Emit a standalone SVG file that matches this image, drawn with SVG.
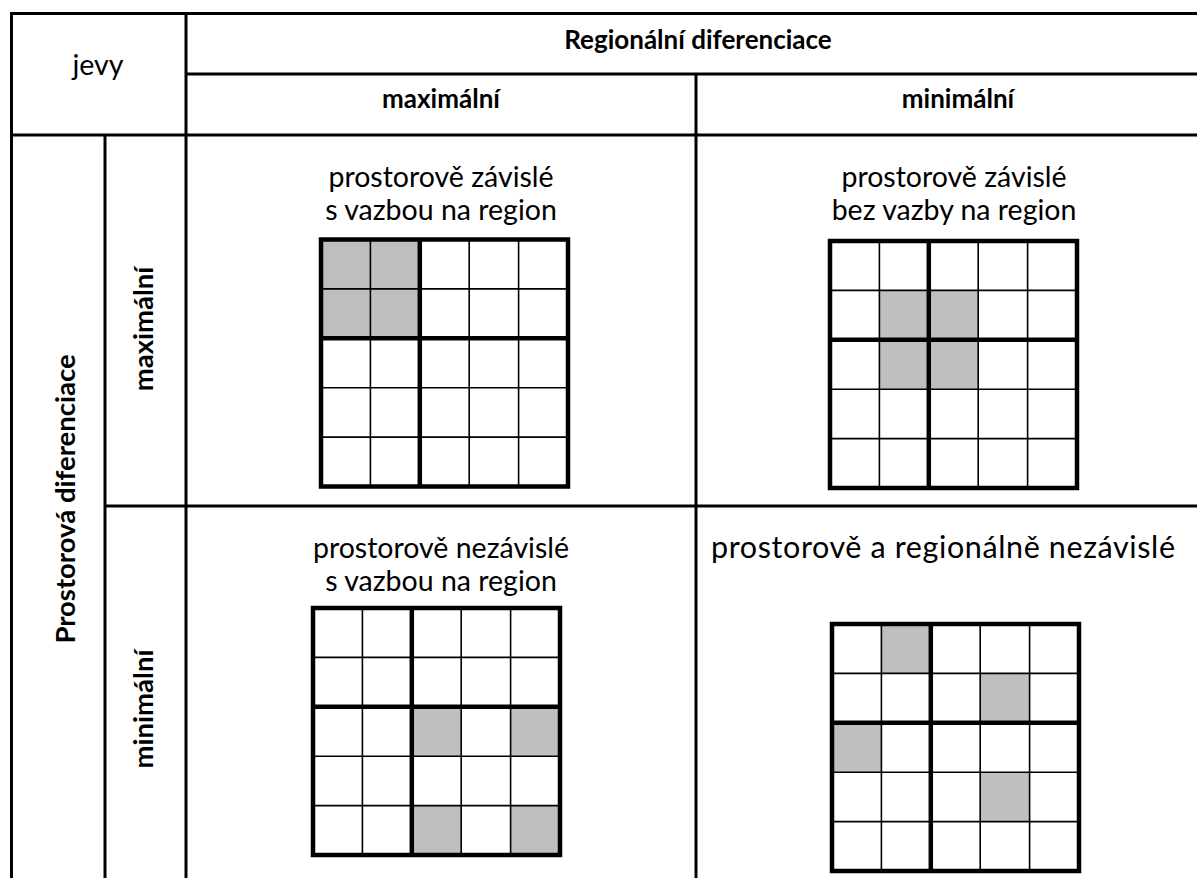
<svg xmlns="http://www.w3.org/2000/svg" xmlns:xlink="http://www.w3.org/1999/xlink" width="1197" height="878" viewBox="0 0 1197 878">
<style>
  .t { font-family: Lato, "Open Sans", "Liberation Sans", sans-serif; font-size: 28.5px; fill: #000; text-anchor: middle; }
  .b { font-weight: bold; font-size: 26px; }
  .rb { font-size: 27.5px; }
  .wide { font-size: 30.5px; }
  .frame { stroke: #000; stroke-width: 3; fill: none; }
  .thin { stroke: #000; stroke-width: 1.6; fill: none; }
  .thick { stroke: #000; stroke-width: 4.5; fill: none; stroke-linecap: square; }
  .sh { fill: #bfbfbf; }
</style>
<defs>
  <g id="gridlines">
    <path class="thin" d="M49.4 0V247M148.2 0V247M197.6 0V247M0 49.4H247M0 148.2H247M0 197.6H247"/>
    <path class="thick" d="M0 0H247V247H0ZM98.8 0V247M0 98.8H247"/>
  </g>
</defs>
<rect width="1197" height="878" fill="#fff"/>
<g id="table-frame">
  <path class="frame" d="M11.5 13.5H1197M186 74H1197M11.5 135H1197M105 506H1197M11.5 12V878M105 135V878M186 12V878M696 74V878"/>
</g>
<g id="header">
  <text class="t" x="98" y="75">jevy</text>
  <text class="t b" x="698" y="49">Regionální diferenciace</text>
  <text class="t b" x="441" y="108">maximální</text>
  <text class="t b" x="958" y="108">minimální</text>
  <text class="t b rb" transform="translate(75,499) rotate(-90)" x="0" y="0">Prostorová diferenciace</text>
  <text class="t b rb" transform="translate(153,329) rotate(-90)" x="0" y="0">maximální</text>
  <text class="t b rb" transform="translate(153,709) rotate(-90)" x="0" y="0">minimální</text>
</g>
<g id="cell-max-max">
  <text class="t" x="441" y="187">prostorově závislé</text>
  <text class="t" x="441" y="220">s vazbou na region</text>
  <g transform="translate(321,239.5)">
    <rect class="sh" x="0" y="0" width="98.8" height="98.8"/>
    <use xlink:href="#gridlines" href="#gridlines"/>
  </g>
</g>
<g id="cell-max-min">
  <text class="t" x="954" y="187">prostorově závislé</text>
  <text class="t" x="954" y="220">bez vazby na region</text>
  <g transform="translate(830,241)">
    <rect class="sh" x="49.4" y="49.4" width="98.8" height="98.8"/>
    <use xlink:href="#gridlines" href="#gridlines"/>
  </g>
</g>
<g id="cell-min-max">
  <text class="t" x="441" y="558">prostorově nezávislé</text>
  <text class="t" x="441" y="591">s vazbou na region</text>
  <g transform="translate(313,608)">
    <rect class="sh" x="98.8" y="98.8" width="49.4" height="49.4"/>
    <rect class="sh" x="197.6" y="98.8" width="49.4" height="49.4"/>
    <rect class="sh" x="98.8" y="197.6" width="49.4" height="49.4"/>
    <rect class="sh" x="197.6" y="197.6" width="49.4" height="49.4"/>
    <use xlink:href="#gridlines" href="#gridlines"/>
  </g>
</g>
<g id="cell-min-min">
  <text class="t wide" x="943" y="558" textLength="464" lengthAdjust="spacing">prostorově a regionálně nezávislé</text>
  <g transform="translate(832,624)">
    <rect class="sh" x="49.4" y="0" width="49.4" height="49.4"/>
    <rect class="sh" x="148.2" y="49.4" width="49.4" height="49.4"/>
    <rect class="sh" x="0" y="98.8" width="49.4" height="49.4"/>
    <rect class="sh" x="148.2" y="148.2" width="49.4" height="49.4"/>
    <use xlink:href="#gridlines" href="#gridlines"/>
  </g>
</g>
</svg>
